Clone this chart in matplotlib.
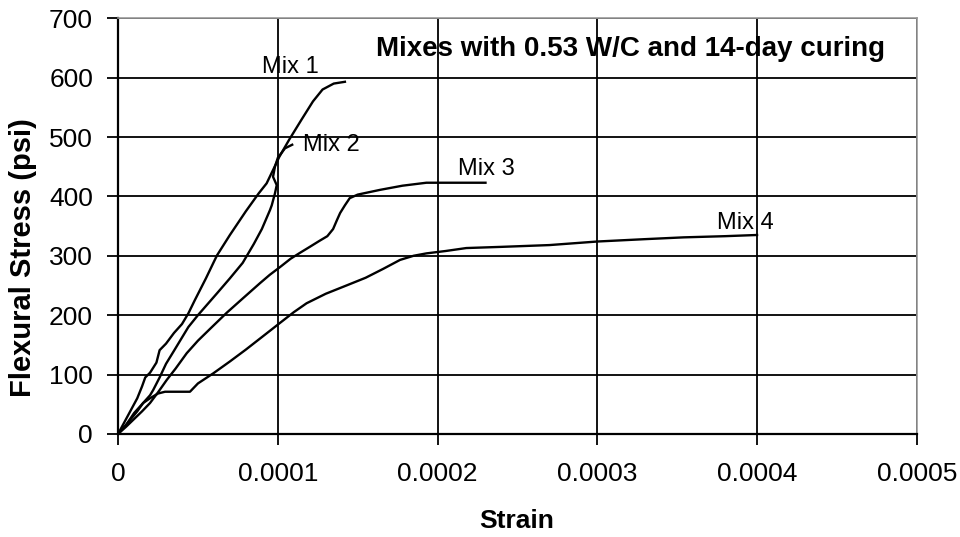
import matplotlib
matplotlib.use("Agg")
import matplotlib.pyplot as plt

mix1_strain = [0, 0.000004, 0.000008, 0.000012, 0.000015, 0.000017, 0.000020, 0.000024,
               0.000026, 0.000030, 0.000035, 0.000040, 0.000044, 0.000048, 0.000055,
               0.000060, 0.000062, 0.000070, 0.000080, 0.000088, 0.000093, 0.000098,
               0.000101, 0.000107, 0.000115, 0.000122, 0.000128, 0.000135, 0.000142]
mix1_stress = [0, 20, 40, 60, 80, 95, 103, 120, 141, 152, 170, 185, 203, 225, 262,
               290, 301, 335, 375, 405, 422, 450, 467, 495, 530, 560, 580, 590, 593]

mix2_strain = [0, 0.000005, 0.000010, 0.000015, 0.000020, 0.000022, 0.000026, 0.000030,
               0.000035, 0.000044, 0.000050, 0.000062, 0.000070, 0.000078, 0.000085,
               0.000090, 0.0000951, 0.0000962, 0.0000982, 0.0000993, 0.000097,
               0.0000982, 0.000100, 0.0001045, 0.000109]
mix2_stress = [0, 15, 35, 50, 65, 74, 95, 118, 140, 180, 200, 237, 262, 288, 320,
               345, 377, 385, 405, 419, 433, 450, 465, 481, 487]

mix3_strain = [0, 0.000005, 0.00001, 0.000015, 0.00002, 0.000025, 0.0000305, 0.000036,
               0.000043, 0.00005, 0.000058, 0.000068, 0.000078, 0.0000889, 0.000095,
               0.0001014, 0.000108, 0.0001139, 0.00012, 0.000126, 0.000131, 0.0001346,
               0.000137, 0.000139, 0.000142, 0.000145, 0.00015, 0.000164, 0.000178,
               0.000193, 0.00021, 0.00023]
mix3_stress = [0, 12, 25, 38, 52, 70, 91, 110, 136, 157, 178, 204, 228, 254, 268,
               281, 295, 305, 315, 325, 333, 345, 360, 372, 385, 397, 403, 411, 418,
               423, 423, 423]

mix4_strain = [0, 0.000004, 0.000008, 0.000012, 0.0000157, 0.00002, 0.000025, 0.0000294,
               0.000045, 0.00005, 0.0000596, 0.00007, 0.00008, 0.00009, 0.0001014,
               0.00011, 0.000118, 0.00013, 0.000143, 0.000155, 0.000166, 0.0001765,
               0.000185, 0.000193, 0.000205, 0.000218, 0.00024, 0.00027, 0.0003,
               0.00033, 0.000354, 0.00038, 0.0004]
mix4_stress = [0, 12, 25, 38, 52, 60, 68, 71, 71, 85, 102, 122, 142, 163, 187,
               205, 220, 236, 250, 263, 278, 293, 300, 304, 308, 313, 315, 318, 324,
               328, 331, 333, 335]

series_names = ["Mix 1", "Mix 2", "Mix 3", "Mix 4"]
x_ticks = [0, 0.0001, 0.0002, 0.0003, 0.0004, 0.0005]
x_tick_labels = ["0", "0.0001", "0.0002", "0.0003", "0.0004", "0.0005"]
y_ticks = [0, 100, 200, 300, 400, 500, 600, 700]
title_text = "Mixes with 0.53 W/C and 14-day curing"

tick_font = ["Liberation Sans", "DejaVu Sans"]
bold_font = ["Liberation Sans", "DejaVu Sans"]

fig = plt.figure(figsize=(9.6, 5.37), dpi=100)
ax = fig.add_axes([0.123, 0.192, 0.832, 0.774])

for xs, ys in [(mix1_strain, mix1_stress), (mix2_strain, mix2_stress),
               (mix3_strain, mix3_stress), (mix4_strain, mix4_stress)]:
    ax.plot(xs, ys, color="black", lw=1.7, zorder=3)

ax.set_xlim(0, 0.0005)
ax.set_ylim(0, 700)
ax.set_xticks(x_ticks)
ax.set_xticklabels(x_tick_labels, family=tick_font, fontsize=19)
ax.set_yticks(y_ticks)
ax.set_yticklabels([str(v) for v in y_ticks], family=tick_font, fontsize=19)
ax.grid(True, color="black", lw=1.3, zorder=1)
ax.set_axisbelow(True)
ax.tick_params(axis="x", direction="out", length=8, width=1.3, pad=12)
ax.tick_params(axis="y", direction="out", length=8, width=1.3, pad=10)
for s in ["left", "bottom"]:
    ax.spines[s].set_color("black")
    ax.spines[s].set_linewidth(1.6)
for s in ["top", "right"]:
    ax.spines[s].set_color("#999999")
    ax.spines[s].set_linewidth(1.2)

fig.text(517 / 960, 1 - 521 / 537, "Strain", family=bold_font, fontweight="bold",
         fontsize=19, ha="center", va="center")
fig.text(23 / 960, 1 - 258 / 537, "Flexural Stress (psi)", family=bold_font,
         fontweight="bold", fontsize=21, rotation=90, ha="center", va="center")

ax.text(0.0001076, 600, series_names[0], family=tick_font, fontsize=17, ha="center", va="bottom", zorder=4)
ax.text(0.0001158, 487, series_names[1], family=tick_font, fontsize=17, ha="left", va="center", zorder=4)
ax.text(0.0002128, 428, series_names[2], family=tick_font, fontsize=17, ha="left", va="bottom", zorder=4)
ax.text(0.000375, 336, series_names[3], family=tick_font, fontsize=17, ha="left", va="bottom", zorder=4)

ax.text(0.000480, 648, title_text, family=bold_font, fontweight="bold", fontsize=20,
        ha="right", va="center", zorder=4)

fig.savefig("out.png", dpi=100)
